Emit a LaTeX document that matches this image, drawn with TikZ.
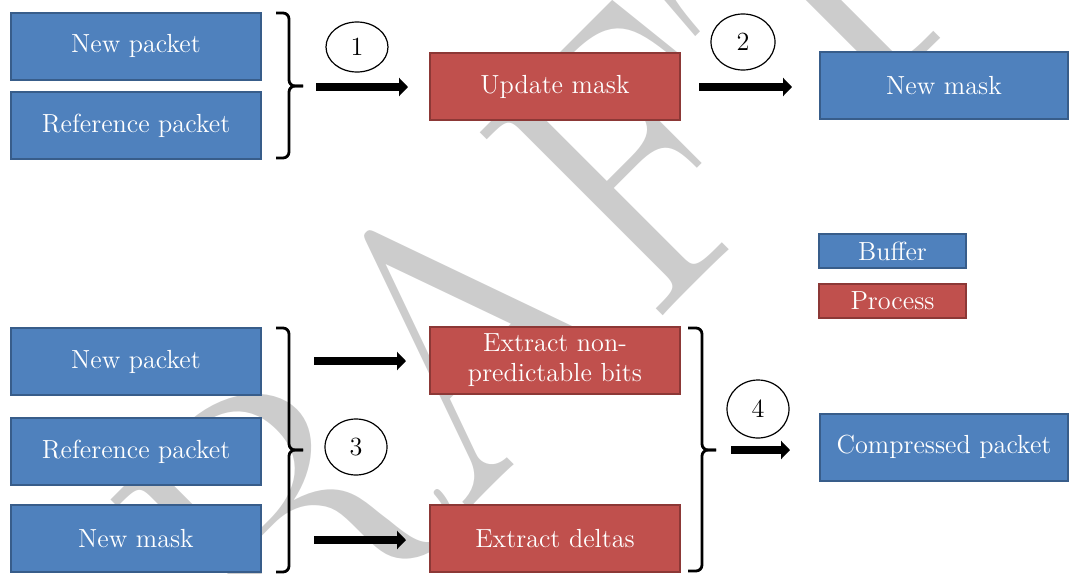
\documentclass[tikz,border=0pt]{standalone}
\usetikzlibrary{arrows.meta, shapes.geometric}

\definecolor{bufFill}{HTML}{4F81BD}
\definecolor{bufLine}{HTML}{385D8A}
\definecolor{procFill}{HTML}{C0504D}
\definecolor{procLine}{HTML}{8C3836}
\definecolor{wmgray}{HTML}{CCCCCC}

\newcommand\boxfont{\fontsize{13.1}{15}\selectfont}
\newcommand\wmfont{\fontsize{190}{190}\selectfont}

\tikzset{
  box/.style={draw, line width=1pt, minimum width=125pt, minimum height=33.5pt,
    inner sep=0pt, text=white, font=\boxfont, align=center},
  buffer/.style={box, fill=bufFill, draw=bufLine},
  process/.style={box, fill=procFill, draw=procLine},
  legend/.style={minimum width=73.5pt, minimum height=17pt},
  stepnum/.style={ellipse, draw, line width=0.6pt, inner sep=0pt, font=\boxfont},
  bigarrow/.style={line width=3.7pt, -{Triangle[length=4.5pt,width=9pt]}},
  brace/.style={line width=1.4pt, rounded corners=3pt},
}

\begin{document}
\begin{tikzpicture}[x=0.5pt, y=-0.5pt]
  \useasboundingbox (0,0) rectangle (1069,573);
  \clip (0,0) rectangle (1069,573);

  % background watermark
  \node[text=wmgray, rotate=45, font=\wmfont, inner sep=0pt] (wm) at (448,345) {DRAFT};

  % stage 1: update the mask
  \node[buffer] (np1) at (136,46) {New packet};
  \node[buffer] (rp1) at (136,125.5) {Reference packet};
  \node[process] (um) at (555,86.5) {Update mask};
  \node[buffer, minimum width=124pt] (nm1) at (944,85.5) {New mask};

  % legend
  \node[buffer, legend] (lb) at (892.5,251) {Buffer};
  \node[process, legend] (lp) at (892.5,301) {Process};

  % stage 2: compress
  \node[buffer] (np2) at (136,361.5) {New packet};
  \node[buffer] (rp2) at (136,451.5) {Reference packet};
  \node[buffer] (nm2) at (136,538.5) {New mask};
  \node[process] (enp) at (555,360) {Extract non-\\predictable bits};
  \node[process] (ed) at (555,538.5) {Extract deltas};
  \node[buffer, minimum width=124pt] (cp) at (944,447) {Compressed packet};

  % step numbers
  \node[stepnum, minimum width=31pt, minimum height=25pt] (s1) at (357,47) {1};
  \node[stepnum, minimum width=32pt, minimum height=28pt] (s2) at (743,42) {2};
  \node[stepnum, minimum width=31pt, minimum height=28pt] (s3) at (356,447) {3};
  \node[stepnum, minimum width=31pt, minimum height=29pt] (s4) at (758,409) {4};

  % braces grouping the inputs
  \draw[brace] (276,13) -- (289,13) -- (289,86) -- (303,86);
  \draw[brace] (276,158) -- (289,158) -- (289,86) -- (303,86);
  \draw[brace] (276,328) -- (289,328) -- (289,450) -- (303,450);
  \draw[brace] (276,572) -- (289,572) -- (289,450) -- (303,450);
  \draw[brace] (688,328) -- (702,328) -- (702,450) -- (716,450);
  \draw[brace] (688,571) -- (702,571) -- (702,450) -- (716,450);

  % arrow end points
  \coordinate (a1s) at (316,87);  \coordinate (a1e) at (408,87);
  \coordinate (a2s) at (699,87);  \coordinate (a2e) at (792,87);
  \coordinate (a3s) at (314,361); \coordinate (a3e) at (406,361);
  \coordinate (a4s) at (314,540); \coordinate (a4e) at (406,540);
  \coordinate (a5s) at (731,450); \coordinate (a5e) at (790,450);

  \draw[bigarrow] (a1s) -- (a1e);
  \draw[bigarrow] (a2s) -- (a2e);
  \draw[bigarrow] (a3s) -- (a3e);
  \draw[bigarrow] (a4s) -- (a4e);
  \draw[bigarrow] (a5s) -- (a5e);
\end{tikzpicture}
\end{document}
